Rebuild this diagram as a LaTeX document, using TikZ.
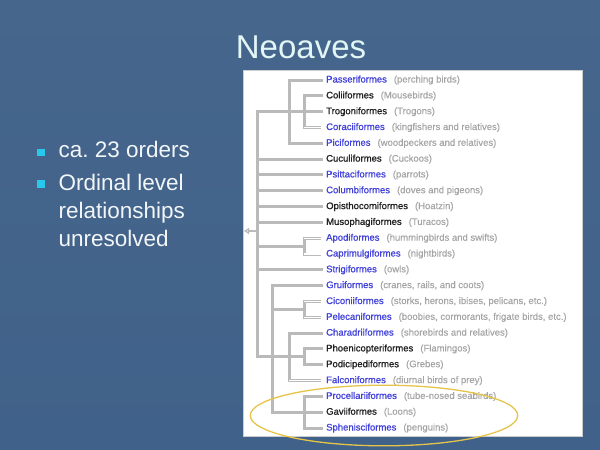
\documentclass[tikz,border=0pt]{standalone}
\usepackage{fontspec}
\setmainfont{Liberation Sans}
\newfontfamily\namefont[FakeBold=0.9]{Liberation Sans}
\newfontfamily\parenfont[FakeBold=0.3]{Liberation Sans}
\usetikzlibrary{arrows.meta,calc}
\definecolor{bgtop}{RGB}{70,102,140}
\definecolor{bgmid}{RGB}{82,117,157}
\definecolor{bgbot}{RGB}{64,97,137}
\definecolor{titlecol}{RGB}{226,246,246}
\definecolor{bulltext}{RGB}{242,246,248}
\definecolor{bullcol}{RGB}{40,200,236}
\definecolor{nameblue}{RGB}{66,66,218}
\definecolor{namedark}{RGB}{34,34,34}
\definecolor{parengray}{RGB}{165,165,165}
\definecolor{treegray}{RGB}{186,186,186}
\definecolor{ringcol}{RGB}{230,196,72}
\newcommand\rowb[2]{\textcolor{nameblue}{\namefont #1}\hspace{7pt}\textcolor{parengray}{\parenfont #2}}
\newcommand\rowk[2]{\textcolor{namedark}{\namefont #1}\hspace{7pt}\textcolor{parengray}{\parenfont #2}}
\tikzset{
  leaf/.style={anchor=west, inner xsep=5pt, inner ysep=0pt, text height=7pt, text depth=2pt,
    font=\fontsize{9.5}{11}\selectfont},
  tree/.style={draw=treegray, line width=3pt, line cap=rect, line join=miter},
  hollow/.style={draw=treegray, line width=0.8pt, double=white, double distance=1.4pt},
  rootarrow/.style={draw=treegray, line width=1.2pt, -{Triangle[open,length=5pt,width=6pt]}},
  ring/.style={draw=ringcol, line width=1.3pt},
  bullettext/.style={anchor=base west, inner sep=0pt, text=bulltext, font=\fontsize{22.5}{28}\selectfont},
}
\begin{document}
\begin{tikzpicture}[x=1pt,y=-1pt]
\useasboundingbox (0,0) rectangle (600,450);
\shade[top color=bgtop, middle color=bgmid, bottom color=bgbot] (0,0) rectangle (600,450);

% title
\node[anchor=base, inner sep=0pt, text=titlecol, font=\fontsize{33}{38}\selectfont] (title) at (301,58.3) {Neoaves};

% bullets
\fill[bullcol] (37,148.5) rectangle (45,156.3);
\fill[bullcol] (37,180.3) rectangle (45,188.1);
\node[bullettext] (b1) at (58.5,157.6) {ca.\ 23 orders};
\node[bullettext] (b2) at (58.5,190) {Ordinal level};
\node[bullettext] (b3) at (58.5,218.2) {relationships};
\node[bullettext] (b4) at (58.5,246) {unresolved};

% panel
\fill[white, draw=gray!40, line width=0.5pt] (243,70) rectangle (582,436);

% leaves
\node[leaf] (pas) at (321,80.0)  {\rowb{Passeriformes}{(perching birds)}};
\node[leaf] (col) at (321,95.9)  {\rowk{Coliiformes}{(Mousebirds)}};
\node[leaf] (tro) at (321,111.7) {\rowk{Trogoniformes}{(Trogons)}};
\node[leaf] (cor) at (321,127.5) {\rowb{Coraciiformes}{(kingfishers and relatives)}};
\node[leaf] (pic) at (321,143.3) {\rowb{Piciformes}{(woodpeckers and relatives)}};
\node[leaf] (cuc) at (321,159.1) {\rowk{Cuculiformes}{(Cuckoos)}};
\node[leaf] (psi) at (321,174.9) {\rowb{Psittaciformes}{(parrots)}};
\node[leaf] (clm) at (321,190.7) {\rowb{Columbiformes}{(doves and pigeons)}};
\node[leaf] (opi) at (321,206.6) {\rowk{Opisthocomiformes}{(Hoatzin)}};
\node[leaf] (mus) at (321,222.4) {\rowk{Musophagiformes}{(Turacos)}};
\node[leaf] (apo) at (321,238.2) {\rowb{Apodiformes}{(hummingbirds and swifts)}};
\node[leaf] (cap) at (321,254.0) {\rowb{Caprimulgiformes}{(nightbirds)}};
\node[leaf] (str) at (321,269.8) {\rowb{Strigiformes}{(owls)}};
\node[leaf] (gru) at (321,285.6) {\rowb{Gruiformes}{(cranes, rails, and coots)}};
\node[leaf] (cic) at (321,301.5) {\rowb{Ciconiiformes}{(storks, herons, ibises, pelicans, etc.)}};
\node[leaf] (pel) at (321,317.3) {\rowb{Pelecaniformes}{(boobies, cormorants, frigate birds, etc.)}};
\node[leaf] (cha) at (321,333.1) {\rowb{Charadriiformes}{(shorebirds and relatives)}};
\node[leaf] (pho) at (321,348.9) {\rowk{Phoenicopteriformes}{(Flamingos)}};
\node[leaf] (pod) at (321,364.7) {\rowk{Podicipediformes}{(Grebes)}};
\node[leaf] (fal) at (321,380.6) {\rowb{Falconiformes}{(diurnal birds of prey)}};
\node[leaf] (pro) at (321,396.4) {\rowb{Procellariiformes}{(tube-nosed seabirds)}};
\node[leaf] (gav) at (321,412.2) {\rowk{Gaviiformes}{(Loons)}};
\node[leaf] (sph) at (321,428.0) {\rowb{Sphenisciformes}{(penguins)}};

% tree columns
\coordinate (xa) at (257,0);
\coordinate (xb) at (272,0);
\coordinate (xc) at (289,0);
\coordinate (xd) at (304,0);
\coordinate (apomid) at ($(apo.west)!0.5!(cap.west)$);
\coordinate (cicmid) at ($(cic.west)!0.5!(pel.west)$);
\coordinate (phomid) at ($(pho.west)!0.5!(pod.west)$);
\coordinate (root) at (257,231);
\coordinate (rootend) at (244,231);

% upper clade
\draw[tree] (xa |- tro.west) -- (tro.west);
\draw[tree] (pas.west) -| (xc |- pic.west) -- (pic.west);
\draw[tree] (col.west) -| (xd |- cor.west);
\draw[hollow] (xd |- cor.west) -- (cor.west);

% trunk
\draw[tree] (xa |- tro.west) -- (xa |- phomid);
\foreach \n in {cuc,psi,clm,opi,mus,str} \draw[tree] (xa |- \n.west) -- (\n.west);
\draw[rootarrow] (root) -- (rootend);

% apodiformes clade
\draw[tree] (xa |- apomid) -- (xd |- apomid);
\draw[tree] (xd |- apo.west) -- (xd |- cap.west);
\draw[hollow] (xd |- apo.west) -- (apo.west);
\draw[hollow] (xd |- cap.west) -- (cap.west);

% lower clade
\draw[tree] (gru.west) -| (xb |- gav.west) -- (gav.west);
\draw[tree] (xa |- phomid) -- (xd |- phomid);
\draw[tree] (xb |- cicmid) -- (xd |- cicmid);
\draw[tree] (xd |- cic.west) -- (xd |- pel.west);
\draw[hollow] (xd |- cic.west) -- (cic.west);
\draw[hollow] (xd |- pel.west) -- (pel.west);
\draw[tree] (cha.west) -| (xc |- fal.west);
\draw[hollow] (xc |- fal.west) -- (fal.west);
\draw[tree] (pho.west) -| (xd |- pod.west) -- (pod.west);
\draw[tree] (pro.west) -| (xd |- sph.west) -- (sph.west);

% highlight ring
\draw[ring] (384,415.5) ellipse [x radius=133.7pt, y radius=30.3pt];
\end{tikzpicture}
\end{document}
